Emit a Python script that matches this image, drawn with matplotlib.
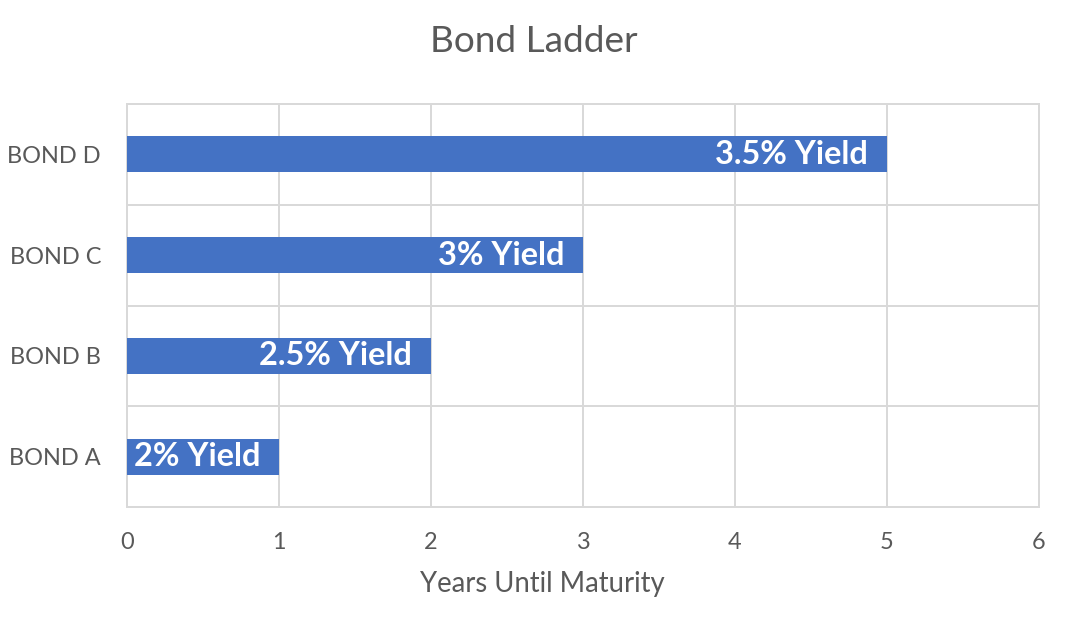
import matplotlib.pyplot as plt

# data
bonds = ['BOND A', 'BOND B', 'BOND C', 'BOND D']
years = [1, 2, 3, 5]
yield_labels = ['2% Yield', '2.5% Yield', '3% Yield', '3.5% Yield']
x_ticks = [0, 1, 2, 3, 4, 5, 6]

# style
bar_color = '#4472C4'
text_color = '#595959'
grid_color = '#D9D9D9'
px = 72 / 100  # points per pixel at dpi 100

plt.rcParams['font.family'] = ['Lato', 'DejaVu Sans']

fig = plt.figure(figsize=(10.72, 6.24), dpi=100)
ax = fig.add_axes([127 / 1072, 1 - 507 / 624, 912 / 1072, 403 / 624])

ypos = list(range(len(bonds)))
ax.barh(ypos, years, height=0.355, color=bar_color, zorder=3)

for y, v, lab in zip(ypos, years, yield_labels):
    ax.annotate(lab, xy=(v, y), xytext=(-19 * px, 0), textcoords='offset points',
                ha='right', va='center', color='white', fontweight='bold',
                fontsize=32.5 * px, zorder=4)

ax.set_xlim(0, 6)
ax.set_ylim(-0.5, len(bonds) - 0.5)
ax.set_xticks(x_ticks)
ax.set_yticks(ypos)
ax.set_yticklabels(bonds)
# gridlines at category boundaries
ax.set_yticks([i - 0.5 for i in range(len(bonds) + 1)], minor=True)
ax.grid(axis='x', color=grid_color, linewidth=2 * px, zorder=0)
ax.grid(axis='y', which='minor', color=grid_color, linewidth=2 * px, zorder=0)
ax.tick_params(axis='both', which='both', length=0, colors=text_color,
               labelsize=23.5 * px)
ax.tick_params(axis='y', pad=26 * px)
ax.tick_params(axis='x', pad=25 * px)
for s in ax.spines.values():
    s.set_color(grid_color)
    s.set_linewidth(2 * px)

fig.text(542 / 1072, 1 - 584 / 624, 'Years Until Maturity', ha='center',
         va='center', color=text_color, fontsize=27.5 * px)
fig.text(534 / 1072, 1 - 41 / 624, 'Bond Ladder', ha='center', va='center',
         color=text_color, fontsize=37 * px)

fig.savefig('out.png', dpi=100, facecolor='white')
